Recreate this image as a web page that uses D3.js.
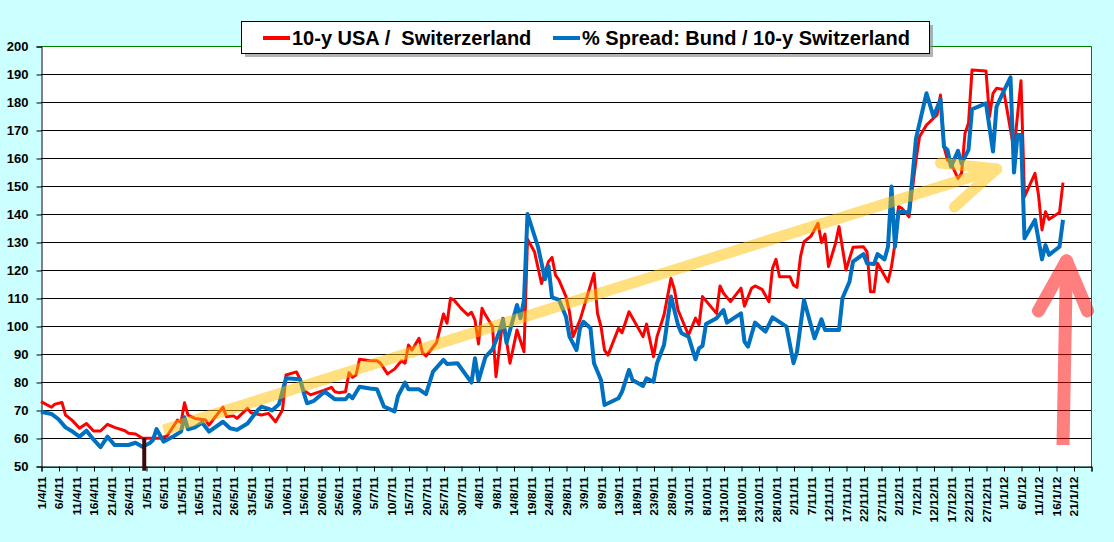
<!DOCTYPE html>
<html>
<head>
<meta charset="utf-8">
<script src="https://cdn.jsdelivr.net/npm/d3@7"></script>
<style>
  body { margin: 0; background: #ccffff; }
  svg { display: block; font-family: "Liberation Sans", Arial, sans-serif; }
</style>
</head>
<body>
<svg id="chart" width="1114" height="542"></svg>
<script>
// 10-y USA / Switzerland yield ratio (%)
const usaSwiss = [
  ["1/4/11",73.0],["4/4/11",71.0],["5/4/11",72.1],["7/4/11",72.7],["8/4/11",68.2],["10/4/11",66.2],
  ["12/4/11",63.5],["14/4/11",65.2],["16/4/11",62.5],["18/4/11",62.5],["20/4/11",64.9],["22/4/11",63.8],
  ["25/4/11",62.6],["26/4/11",61.7],["28/4/11",61.4],["30/4/11",59.9],["3/5/11",59.9],["5/5/11",59.9],
  ["7/5/11",60.7],["10/5/11",66.4],["11/5/11",65.5],["12/5/11",72.6],["13/5/11",68.2],["15/5/11",67.0],
  ["18/5/11",66.4],["19/5/11",64.6],["21/5/11",67.9],["23/5/11",71.0],["24/5/11",67.6],["26/5/11",67.9],
  ["27/5/11",67.0],["30/5/11",70.6],["31/5/11",69.0],["3/6/11",68.2],["5/6/11",68.8],["7/6/11",65.8],
  ["9/6/11",70.0],["10/6/11",82.5],["13/6/11",83.6],["14/6/11",81.0],["15/6/11",77.1],["17/6/11",75.4],
  ["21/6/11",77.1],["23/6/11",78.1],["24/6/11",76.5],["25/6/11",76.2],["27/6/11",76.5],["28/6/11",83.3],
  ["29/6/11",81.7],["30/6/11",82.5],["1/7/11",88.1],["4/7/11",87.6],["6/7/11",87.6],["7/7/11",86.7],
  ["9/7/11",82.9],["11/7/11",84.6],["13/7/11",87.6],["14/7/11",86.7],["15/7/11",93.2],["16/7/11",91.4],
  ["18/7/11",95.6],["19/7/11",90.5],["20/7/11",89.3],["23/7/11",94.0],["25/7/11",104.3],["26/7/11",101.0],
  ["27/7/11",109.9],["28/7/11",109.3],["30/7/11",106.3],["1/8/11",103.9],["2/8/11",104.9],["3/8/11",102.1],
  ["4/8/11",93.6],["5/8/11",106.3],["6/8/11",103.9],["8/8/11",99.8],["9/8/11",81.9],["11/8/11",102.8],
  ["13/8/11",86.7],["14/8/11",92.6],["15/8/11",98.6],["17/8/11",90.8],["18/8/11",131.0],["20/8/11",126.5],
  ["22/8/11",115.2],["24/8/11",123.0],["25/8/11",124.5],["26/8/11",118.2],["27/8/11",116.4],["29/8/11",110.5],
  ["30/8/11",105.0],["31/8/11",96.2],["2/9/11",102.1],["3/9/11",106.3],["6/9/11",118.8],["7/9/11",104.5],
  ["8/9/11",99.8],["9/9/11",91.4],["10/9/11",89.6],["13/9/11",99.2],["14/9/11",97.6],["16/9/11",105.1],
  ["20/9/11",96.2],["21/9/11",100.7],["23/9/11",89.0],["24/9/11",96.2],["26/9/11",103.9],["28/9/11",117.0],
  ["29/9/11",112.9],["30/9/11",105.7],["3/10/11",96.8],["5/10/11",102.8],["6/10/11",100.4],["7/10/11",110.5],
  ["11/10/11",104.5],["12/10/11",114.3],["13/10/11",111.7],["15/10/11",108.7],["18/10/11",113.5],["19/10/11",107.1],
  ["21/10/11",113.5],["22/10/11",114.3],["24/10/11",113.1],["26/10/11",108.7],["27/10/11",120.6],["28/10/11",123.8],
  ["29/10/11",117.6],["1/11/11",117.6],["2/11/11",114.6],["3/11/11",113.8],["4/11/11",124.8],["5/11/11",130.1],
  ["7/11/11",132.1],["9/11/11",136.7],["10/11/11",129.8],["11/11/11",132.8],["12/11/11",121.2],["14/11/11",129.5],
  ["15/11/11",135.5],["17/11/11",120.0],["19/11/11",128.1],["22/11/11",128.3],["23/11/11",126.5],["24/11/11",112.2],
  ["25/11/11",112.2],["26/11/11",122.4],["29/11/11",115.8],["30/11/11",121.2],["1/12/11",129.5],["2/12/11",142.6],
  ["3/12/11",142.0],["5/12/11",139.0],["7/12/11",159.3],["8/12/11",167.6],["10/12/11",171.8],["13/12/11",175.4],
  ["14/12/11",182.5],["15/12/11",164.0],["16/12/11",159.3],["17/12/11",158.1],["19/12/11",152.7],["20/12/11",154.5],
  ["21/12/11",168.8],["22/12/11",172.4],["23/12/11",191.4],["27/12/11",191.1],["28/12/11",174.8],["29/12/11",183.1],
  ["30/12/11",184.9],["1/1/12",184.5],["4/1/12",162.9],["6/1/12",187.6],["7/1/12",146.2],["10/1/12",154.5],
  ["11/1/12",146.8],["12/1/12",134.3],["13/1/12",140.8],["14/1/12",138.1],["17/1/12",140.5],["18/1/12",151.2]
];

// % spread Bund / 10-y Switzerland
const bundSwiss = [
  ["1/4/11",69.4],["4/4/11",68.6],["6/4/11",66.7],["8/4/11",63.8],["10/4/11",62.3],["12/4/11",60.5],
  ["14/4/11",62.6],["16/4/11",59.5],["18/4/11",56.7],["20/4/11",60.5],["22/4/11",57.5],["26/4/11",57.5],
  ["28/4/11",58.3],["30/4/11",56.9],["2/5/11",58.1],["3/5/11",59.3],["4/5/11",63.2],["6/5/11",58.7],
  ["9/5/11",60.7],["11/5/11",62.3],["12/5/11",67.4],["13/5/11",63.1],["15/5/11",63.8],["17/5/11",65.5],
  ["19/5/11",62.3],["23/5/11",65.8],["25/5/11",63.5],["27/5/11",62.9],["30/5/11",65.2],["2/6/11",70.0],
  ["3/6/11",71.2],["5/6/11",70.4],["6/6/11",69.8],["8/6/11",72.1],["10/6/11",81.3],["14/6/11",81.0],
  ["15/6/11",76.5],["16/6/11",72.4],["18/6/11",73.3],["21/6/11",76.5],["22/6/11",75.7],["24/6/11",73.8],
  ["27/6/11",73.8],["28/6/11",75.4],["29/6/11",74.2],["1/7/11",78.3],["4/7/11",77.7],["6/7/11",77.4],
  ["8/7/11",71.2],["11/7/11",69.5],["12/7/11",75.0],["14/7/11",79.8],["15/7/11",77.4],["18/7/11",77.4],
  ["20/7/11",75.7],["22/7/11",83.7],["25/7/11",87.9],["26/7/11",86.4],["29/7/11",86.7],["2/8/11",79.8],
  ["3/8/11",88.5],["4/8/11",80.5],["6/8/11",89.0],["8/8/11",91.7],["10/8/11",98.0],["11/8/11",102.4],
  ["12/8/11",94.0],["15/8/11",107.5],["16/8/11",102.8],["17/8/11",109.3],["18/8/11",140.0],["21/8/11",128.3],
  ["23/8/11",116.7],["24/8/11",121.4],["25/8/11",110.2],["27/8/11",109.3],["29/8/11",103.3],["30/8/11",96.2],
  ["1/9/11",91.4],["2/9/11",99.2],["3/9/11",101.5],["5/9/11",99.2],["6/9/11",86.7],["8/9/11",80.7],
  ["9/9/11",71.8],["13/9/11",74.2],["14/9/11",76.5],["16/9/11",84.3],["17/9/11",80.7],["20/9/11",78.6],
  ["21/9/11",81.3],["23/9/11",80.1],["24/9/11",86.7],["26/9/11",93.2],["28/9/11",110.5],["30/9/11",100.4],
  ["1/10/11",97.4],["3/10/11",96.2],["5/10/11",88.1],["6/10/11",92.0],["7/10/11",92.9],["8/10/11",100.7],
  ["11/10/11",102.8],["13/10/11",105.7],["14/10/11",101.2],["18/10/11",104.5],["19/10/11",94.4],["20/10/11",92.6],
  ["22/10/11",101.2],["25/10/11",98.0],["27/10/11",103.1],["31/10/11",99.8],["2/11/11",86.7],["3/11/11",90.8],
  ["5/11/11",109.3],["8/11/11",95.6],["10/11/11",102.4],["11/11/11",98.6],["15/11/11",98.6],["16/11/11",110.0],
  ["18/11/11",115.8],["19/11/11",123.0],["22/11/11",125.7],["23/11/11",122.4],["25/11/11",122.1],["26/11/11",125.7],
  ["28/11/11",123.8],["29/11/11",128.3],["30/11/11",149.8],["1/12/11",128.3],["2/12/11",140.8],["5/12/11",140.5],
  ["6/12/11",153.3],["7/12/11",167.0],["10/12/11",183.1],["12/12/11",174.8],["14/12/11",181.0],["15/12/11",164.0],
  ["16/12/11",162.9],["17/12/11",156.9],["19/12/11",162.6],["20/12/11",158.1],["22/12/11",162.9],["23/12/11",177.4],
  ["27/12/11",179.5],["29/12/11",162.3],["30/12/11",178.3],["1/1/12",183.7],["3/1/12",188.8],["4/1/12",154.8],
  ["5/1/12",168.2],["6/1/12",168.2],["7/1/12",131.3],["10/1/12",137.9],["12/1/12",123.8],["13/1/12",128.9],
  ["14/1/12",125.4],["17/1/12",128.3],["18/1/12",137.9]
];

const seriesNames = ["10-y USA /  Switerzerland", "% Spread: Bund / 10-y Switzerland"];
const seriesColors = ["#ff0000", "#0070c0"];
const xStart = "1/4/11";
const xEnd = "26/1/12";
const yTicks = d3.range(50, 201, 10);

// hand-drawn annotations, in data space [date, value]
const trendArrow = { shaft: [["6/5/11", 62.9], ["30/12/11", 156.1]], barbs: [["18/12/11", 142.5], ["14/12/11", 158.2]] };
const upArrow = { shaft: [["18/1/12", 57.5], ["19/1/12", 123.2]], barbs: [["11/1/12", 105.4], ["25/1/12", 105.4]] };
const markerDate = "30/4/11";

const parse = d3.utcParse("%d/%m/%y");
const fmt = d3.utcFormat("%-d/%-m/%y");

const svg = d3.select("#chart");
const plotLeft = 41, plotRight = 1091, plotTop = 46, plotBottom = 466;

const x = d3.scaleUtc().domain([parse(xStart), parse(xEnd)]).range([plotLeft, plotRight]);
const y = d3.scaleLinear().domain([50, 200]).range([plotBottom, plotTop]);

svg.append("rect").attr("width", 1114).attr("height", 542).attr("fill", "#ccffff");
svg.append("rect").attr("x", plotLeft).attr("y", plotTop)
  .attr("width", plotRight - plotLeft).attr("height", plotBottom - plotTop).attr("fill", "#fff");

// gridlines
svg.append("g").selectAll("line")
  .data(yTicks.filter(v => v > 50 && v < 200))
  .join("line")
  .attr("x1", plotLeft).attr("x2", plotRight)
  .attr("y1", d => y(d) + 0.5).attr("y2", d => y(d) + 0.5)
  .attr("stroke", "#000").attr("stroke-width", 1);

// plot border
svg.append("path")
  .attr("d", `M${plotLeft},${plotTop + 0.5}H${plotRight + 0.5}V${plotBottom + 1.5}H${plotLeft}`)
  .attr("fill", "none").attr("stroke", "#008000").attr("stroke-width", 1);

// y axis
const yAxis = svg.append("g")
  .attr("transform", `translate(${plotLeft + 0.5},0.5)`)
  .call(d3.axisLeft(y).tickValues(yTicks).tickSize(5).tickPadding(8));
yAxis.select(".domain").attr("stroke", "#000");
yAxis.selectAll("line").attr("stroke", "#000");
yAxis.selectAll("text").attr("font-size", 13).attr("font-weight", "bold")
  .attr("font-family", "'Liberation Sans', Arial, sans-serif").attr("fill", "#000");

// x axis, a tick every 5 days
const xTicks = d3.utcDay.range(parse(xStart), d3.utcDay.offset(parse(xEnd), 1), 5);
const lastTick = +xTicks[xTicks.length - 1];
const xAxis = svg.append("g")
  .attr("transform", `translate(0.5,${plotBottom + 0.5})`)
  .call(d3.axisBottom(x).tickValues(xTicks).tickSize(5)
    .tickFormat(d => +d === lastTick ? "" : fmt(d)));
xAxis.select(".domain").attr("stroke", "#000");
xAxis.selectAll("line").attr("stroke", "#000");
xAxis.selectAll("text")
  .attr("font-size", 12).attr("font-weight", "bold")
  .attr("font-family", "'Liberation Sans', Arial, sans-serif").attr("fill", "#000")
  .attr("text-anchor", "end")
  .attr("dy", "0.35em")
  .attr("transform", "translate(0,10) rotate(-90) scale(1,0.86)")
  .attr("x", 0).attr("y", 0);

// series
const line = d3.line().x(d => x(parse(d[0]))).y(d => y(d[1]));
svg.append("path").datum(usaSwiss)
  .attr("d", line).attr("fill", "none").attr("stroke", seriesColors[0])
  .attr("stroke-width", 3).attr("stroke-linejoin", "round");
svg.append("path").datum(bundSwiss)
  .attr("d", line).attr("fill", "none").attr("stroke", seriesColors[1])
  .attr("stroke-width", 4).attr("stroke-linejoin", "round");

// dark marker at start of May
const mx = x(d3.utcHour.offset(parse(markerDate), 12));
svg.append("line").attr("x1", mx).attr("x2", mx).attr("y1", y(60)).attr("y2", y(48.3))
  .attr("stroke", "#3c0a0a").attr("stroke-width", 4);

// annotation arrows
const pt = d => [x(parse(d[0])), y(d[1])];
function drawArrow(a, color, width, opacity) {
  const g = svg.append("g").attr("opacity", opacity);
  const [s0, s1] = a.shaft.map(pt);
  g.append("line").attr("x1", s0[0]).attr("y1", s0[1]).attr("x2", s1[0]).attr("y2", s1[1])
    .attr("stroke", color).attr("stroke-width", width).attr("stroke-linecap", "butt");
  a.barbs.map(pt).forEach(b => {
    g.append("line").attr("x1", b[0]).attr("y1", b[1]).attr("x2", s1[0]).attr("y2", s1[1])
      .attr("stroke", color).attr("stroke-width", width).attr("stroke-linecap", "round");
  });
  g.append("circle").attr("cx", s1[0]).attr("cy", s1[1]).attr("r", width / 2).attr("fill", color);
}
drawArrow(trendArrow, "#ffc000", 11, 0.5);
drawArrow(upArrow, "#ff0000", 13, 0.5);

// legend
const lg = svg.append("g");
lg.append("rect").attr("x", 245).attr("y", 25).attr("width", 688).attr("height", 32)
  .attr("fill", "#808080").attr("opacity", 0.6);
lg.append("rect").attr("x", 241.5).attr("y", 21.5).attr("width", 688).attr("height", 32)
  .attr("fill", "#fff").attr("stroke", "#000").attr("stroke-width", 1);
const legendX = [[263, 292], [553, 582]];
seriesNames.forEach((name, i) => {
  lg.append("line").attr("x1", legendX[i][0]).attr("x2", legendX[i][0] + 27)
    .attr("y1", 38).attr("y2", 38).attr("stroke", seriesColors[i]).attr("stroke-width", 4);
  lg.append("text").attr("x", legendX[i][1]).attr("y", 45)
    .attr("font-size", 20).attr("font-weight", "bold").attr("fill", "#000")
    .style("white-space", "pre")
    .text(name);
});
</script>
</body>
</html>
